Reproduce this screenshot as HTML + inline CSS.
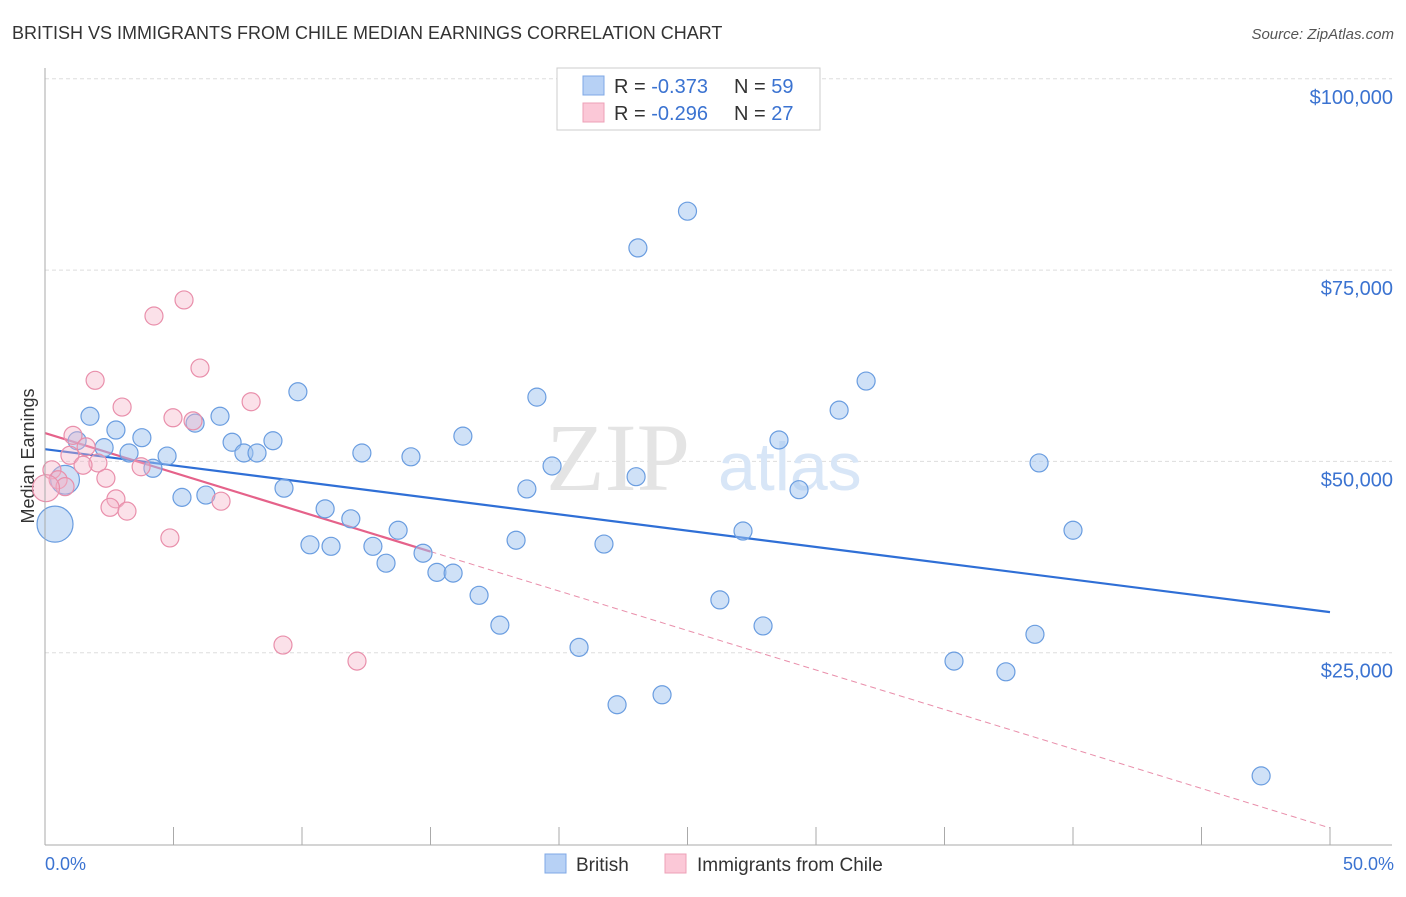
<!DOCTYPE html>
<html><head><meta charset="utf-8"><style>
body{margin:0;background:#fff;font-family:"Liberation Sans",sans-serif}
</style></head><body>
<svg id="chart" width="1406" height="892" xmlns="http://www.w3.org/2000/svg" font-family="Liberation Sans, sans-serif">
<text x="12" y="39" font-size="18" fill="#333">BRITISH VS IMMIGRANTS FROM CHILE MEDIAN EARNINGS CORRELATION CHART</text>
<text x="1394" y="39" font-size="15" fill="#555" text-anchor="end" font-style="italic">Source: ZipAtlas.com</text>
<text x="0" y="0" transform="translate(34,456) rotate(-90)" font-size="18" fill="#333" text-anchor="middle">Median Earnings</text>
<g id="grid"></g>
<text x="690" y="490" font-size="96" fill="#e4e4e4" text-anchor="end" font-family="Liberation Serif, serif">ZIP</text>
<text x="718" y="490" font-size="68" fill="#d8e6f7">atlas</text>
<g id="trend"></g>
<g id="pts"></g>
<line x1="45" y1="68" x2="45" y2="845" stroke="#aaa"/>
<line x1="45" y1="845" x2="1392" y2="845" stroke="#aaa"/>
<g id="xt"></g>
<text x="45" y="870" font-size="18" fill="#3b73d1">0.0%</text>
<text x="1394" y="870" font-size="18" fill="#3b73d1" text-anchor="end">50.0%</text>
<g>
<rect x="557" y="68" width="263" height="62" fill="#fff" stroke="#ccc"/>
<rect x="583" y="76" width="21" height="19" fill="#b7d1f5" stroke="#7fa8e6"/>
<rect x="583" y="103" width="21" height="19" fill="#fbc8d7" stroke="#eea0b7"/>
<text x="614" y="93" font-size="20" fill="#333">R = <tspan fill="#3b73d1">-0.373</tspan><tspan x="734">N = </tspan><tspan fill="#3b73d1">59</tspan></text>
<text x="614" y="120" font-size="20" fill="#333">R = <tspan fill="#3b73d1">-0.296</tspan><tspan x="734">N = </tspan><tspan fill="#3b73d1">27</tspan></text>
</g>
<g>
<rect x="545" y="854" width="21" height="19" fill="#b7d1f5" stroke="#7fa8e6"/>
<text x="576" y="871" font-size="19" fill="#333">British</text>
<rect x="665" y="854" width="21" height="19" fill="#fbc8d7" stroke="#eea0b7"/>
<text x="697" y="871" font-size="19" fill="#333">Immigrants from Chile</text>
</g>
</svg>
<script>
const yTicks=[25000,50000,75000,100000];
const yTickLabels=["$25,000","$50,000","$75,000","$100,000"];
const xTicks=[0,5,10,15,20,25,30,35,40,45,50];
const britishX=[25.0,23.07,31.95,19.14,30.9,9.84,1.75,6.81,5.84,2.76,16.26,3.77,1.25,7.28,8.87,28.56,2.30,3.27,7.74,8.25,12.33,4.75,14.24,38.68,19.73,4.20,23.0,0.78,9.30,18.75,29.34,5.33,6.26,10.9,11.9,27.16,40.0,13.74,18.33,10.31,11.13,12.76,21.75,14.71,13.27,15.25,15.88,16.89,26.26,17.70,27.94,38.52,20.78,35.37,37.39,24.01,22.26,47.32,0.39];
const britishY=[82.7,77.9,60.5,58.4,56.7,59.1,55.9,55.9,55.0,54.1,53.3,53.1,52.7,52.5,52.7,52.8,51.8,51.1,51.1,51.1,51.1,50.7,50.6,49.8,49.4,49.1,48.0,47.6,46.5,46.4,46.3,45.3,45.6,43.8,42.5,40.9,41.0,41.0,39.7,39.1,38.9,38.9,39.2,38.0,36.7,35.5,35.4,32.5,31.9,28.6,28.5,27.4,25.7,23.9,22.5,19.5,18.2,8.9,41.8];
const britishSize=[1,1,1,1,1,1,1,1,1,1,1,1,1,1,1,1,1,1,1,1,1,1,1,1,1,1,1,1.6,1,1,1,1,1,1,1,1,1,1,1,1,1,1,1,1,1,1,1,1,1,1,1,1,1,1,1,1,1,1,2];
const chileX=[5.41,4.24,6.03,1.95,8.02,3.0,4.98,5.76,1.09,1.6,0.97,2.06,1.48,3.74,0.27,2.37,0.51,0.78,0.04,2.76,6.85,2.53,3.19,4.86,9.26,12.14];
const chileY=[71.1,69.0,62.2,60.6,57.8,57.1,55.7,55.3,53.4,51.9,50.8,49.8,49.5,49.3,48.9,47.8,47.6,46.7,46.5,45.1,44.8,44.0,43.5,40.0,26.0,23.9];
const chileSize=[1,1,1,1,1,1,1,1,1,1,1,1,1,1,1,1,1,1,1.5,1,1,1,1,1,1,1];
const britishTrend=[51.6,30.3];
const chileTrend=[53.7,2.1];
const chileSolidEnd=15;
const X=v=>45+v*25.7, Y=k=>844-k*7.652;
const NS="http://www.w3.org/2000/svg";
function mk(tag,attrs,parent){const e=document.createElementNS(NS,tag);for(const k in attrs)e.setAttribute(k,attrs[k]);document.getElementById(parent).appendChild(e);return e;}
yTicks.forEach((t,i)=>{const y=Y(t/1000);
const l=mk('line',{x1:45,x2:1392,y1:y,y2:y,stroke:'#ddd','stroke-dasharray':'4,3'},'grid');


const tx=mk('text',{x:1393,y:y+25,'font-size':20,fill:'#3b73d1','text-anchor':'end'},'grid');tx.textContent=yTickLabels[i];

});
xTicks.forEach(t=>{const x=X(t);const l=mk('line',{x1:x,x2:x,y1:827,y2:845,stroke:'#aaa'},'xt');

});
function pts(xs,ys,ss,fill,stroke,name){xs.forEach((v,i)=>{const c=mk('circle',{cx:X(v),cy:Y(ys[i]),r:9*ss[i],fill:fill,stroke:stroke,'stroke-width':1.2},'pts');

});}
pts(britishX,britishY,britishSize,'rgba(160,196,240,0.5)','#6a9de0','british-point');
pts(chileX,chileY,chileSize,'rgba(245,180,200,0.4)','#e98fab','chile-point');
const b=mk('line',{x1:X(0),y1:Y(britishTrend[0]),x2:X(50),y2:Y(britishTrend[1]),stroke:'#2f6fd6','stroke-width':2.2},'trend');


const cy=x=>chileTrend[0]+(chileTrend[1]-chileTrend[0])*x/50;
const c1=mk('line',{x1:X(0),y1:Y(cy(0)),x2:X(chileSolidEnd),y2:Y(cy(chileSolidEnd)),stroke:'#e5628a','stroke-width':2.2},'trend');


const c2=mk('line',{x1:X(chileSolidEnd),y1:Y(cy(chileSolidEnd)),x2:X(50),y2:Y(cy(50)),stroke:'#e98fab','stroke-width':1,'stroke-dasharray':'6,4'},'trend');


</script>
</body></html>
